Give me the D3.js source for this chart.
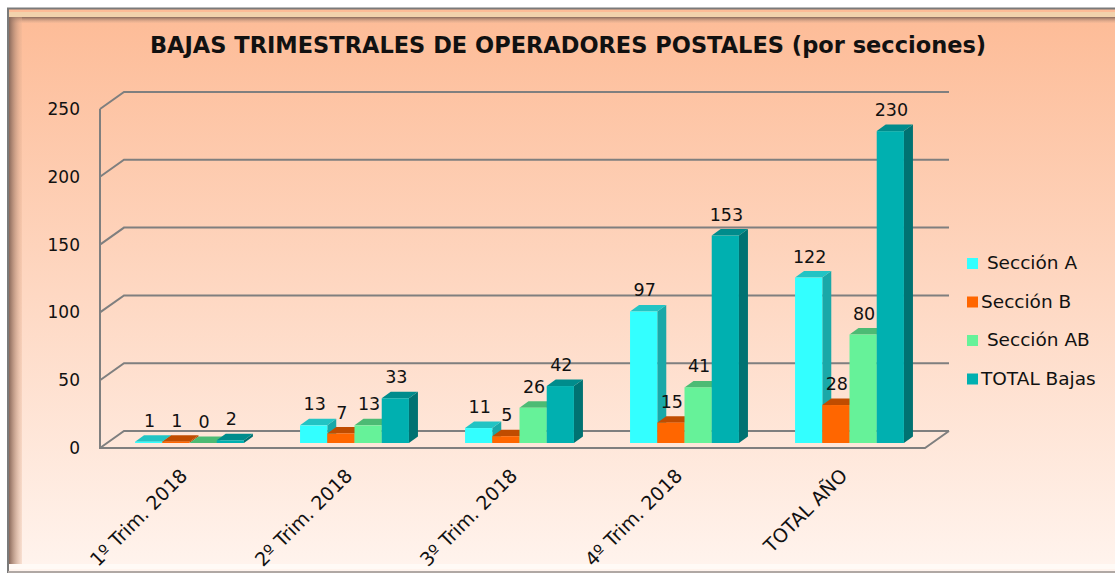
<!DOCTYPE html>
<html>
<head>
<meta charset="utf-8">
<script src="https://cdn.jsdelivr.net/npm/d3@7"></script>
<style>
  body { margin: 0; background: #fff; }
  svg text { font-family: "DejaVu Sans", Verdana, sans-serif; fill: #111; }
</style>
</head>
<body>
<div id="chart"></div>
<script>
// datos
const categories = ["1º Trim. 2018", "2º Trim. 2018", "3º Trim. 2018", "4º Trim. 2018", "TOTAL AÑO"];
const seriesNames = ["Sección A", "Sección B", "Sección AB", "TOTAL Bajas"];
const legendLabels = [" Sección A", "Sección B", " Sección AB", "TOTAL Bajas"];
const seccionA = [1, 13, 11, 97, 122];
const seccionB = [1, 7, 5, 15, 28];
const seccionAB = [0, 13, 26, 41, 80];
const totalBajas = [2, 33, 42, 153, 230];
const yTicks = [0, 50, 100, 150, 200, 250];

const colors = [
  { front: "#33ffff", top: "#22c4c4", side: "#1aa8a8" },
  { front: "#ff6600", top: "#c04c00", side: "#b34700" },
  { front: "#66f299", top: "#4cbb74", side: "#48b06d" },
  { front: "#00b0b0", top: "#008c8c", side: "#007272" }
];

const rows = [seccionA, seccionB, seccionAB, totalBajas];
const data = [];
categories.forEach((c, i) => {
  rows.forEach((r, s) => data.push({ cat: c, s: s, v: r[i] }));
});

const W = 1115, H = 574;
const svg = d3.select('#chart').append('svg').attr('width', W).attr('height', H);

// fondo degradado
const defs = svg.append('defs');
const grad = defs.append('linearGradient').attr('id', 'bg').attr('x1', 0).attr('y1', 0).attr('x2', 0).attr('y2', 1);
grad.append('stop').attr('offset', '0%').attr('stop-color', '#fdbb96');
grad.append('stop').attr('offset', '100%').attr('stop-color', '#fff4ee');
const lg = defs.append('linearGradient').attr('id', 'bevL').attr('x1', 0).attr('y1', 0).attr('x2', 1).attr('y2', 0);
lg.append('stop').attr('offset', '0%').attr('stop-color', '#8a6a5c');
lg.append('stop').attr('offset', '100%').attr('stop-color', '#e8b394').attr('stop-opacity', 0.3);
const tg = defs.append('linearGradient').attr('id', 'bevT').attr('x1', 0).attr('y1', 0).attr('x2', 0).attr('y2', 1);
tg.append('stop').attr('offset', '0%').attr('stop-color', '#8a6a5c');
tg.append('stop').attr('offset', '100%').attr('stop-color', '#e8b394').attr('stop-opacity', 0.3);

svg.append('rect').attr('x', 8).attr('y', 8).attr('width', W - 8).attr('height', 565).attr('fill', 'url(#bg)');
// marco
svg.append('rect').attr('x', 8).attr('y', 12).attr('width', W - 8).attr('height', 5).attr('fill', '#f2d2ac');
svg.append('rect').attr('x', 9).attr('y', 17).attr('width', W - 9).attr('height', 6).attr('fill', 'url(#bevT)');
svg.append('rect').attr('x', 9).attr('y', 17).attr('width', 13).attr('height', 549).attr('fill', 'url(#bevL)');
svg.append('rect').attr('x', 9).attr('y', 564).attr('width', W - 9).attr('height', 5).attr('fill', '#fffaf6');
svg.append('path').attr('d', `M8,573 V8.5 H${W}`).attr('fill', 'none').attr('stroke', '#7a7a7a').attr('stroke-width', 2);
svg.append('line').attr('x1', 8).attr('x2', W).attr('y1', 572).attr('y2', 572).attr('stroke', '#b0a8a4').attr('stroke-width', 2);

// titulo
svg.append('text').attr('x', 568).attr('y', 53).attr('text-anchor', 'middle')
  .style('font-size', '22.5px').style('font-weight', 'bold')
  .text('BAJAS TRIMESTRALES DE OPERADORES POSTALES (por secciones)');

// geometria 3D
const left = 100, right = 925, depthX = 24, depthY = -17;
const x = d3.scaleBand().domain(categories).range([left, right]).paddingInner(0.34).paddingOuter(0.17);
const xs = d3.scaleBand().domain(d3.range(seriesNames.length)).range([0, x.bandwidth()]);
const y = d3.scaleLinear().domain([0, 250]).range([448, 109]);

const g = svg.append('g');
// paredes / rejilla
yTicks.forEach(t => {
  g.append('path')
    .attr('d', `M${left},${y(t)} L${left + depthX},${y(t) + depthY} L${right + depthX},${y(t) + depthY}`)
    .attr('fill', 'none').attr('stroke', '#7f7f7f').attr('stroke-width', 2);
});
g.append('path')
  .attr('d', `M${left},${y(250)} V${y(0)} H${right} L${right + depthX},${y(0) + depthY}`)
  .attr('fill', 'none').attr('stroke', '#7f7f7f').attr('stroke-width', 2);

// eje y
g.selectAll('.ytick').data(yTicks).enter().append('text')
  .attr('x', 80).attr('y', d => y(d) + 6).attr('text-anchor', 'end')
  .style('font-size', '17px').text(d => d);

// barras
const offX = 7, offY = -5, bdx = 9, bdy = -6.5;
const bars = g.selectAll('.bar').data(data).enter().append('g').attr('class', 'bar');
bars.each(function(d) {
  const x0 = x(d.cat) + xs(d.s) + offX;
  const x1 = x0 + xs.bandwidth();
  const yb = y(0) + offY;
  const yt = y(d.v) + offY;
  const c = colors[d.s];
  const sel = d3.select(this);
  sel.append('path').attr('fill', c.side)
    .attr('d', `M${x1},${yt} L${x1 + bdx},${yt + bdy} L${x1 + bdx},${yb + bdy} L${x1},${yb} Z`);
  sel.append('path').attr('fill', c.top)
    .attr('d', `M${x0},${yt} L${x0 + bdx},${yt + bdy} L${x1 + bdx},${yt + bdy} L${x1},${yt} Z`);
  sel.append('rect').attr('fill', c.front)
    .attr('x', x0).attr('y', yt).attr('width', x1 - x0).attr('height', yb - yt);
});

// etiquetas de valores
g.selectAll('.lbl').data(data).enter().append('text')
  .attr('x', d => x(d.cat) + xs(d.s) + offX + xs.bandwidth() / 2 + 1)
  .attr('y', d => y(d.v) + offY - 15)
  .attr('text-anchor', 'middle').style('font-size', '17.5px')
  .text(d => d.v);

// eje x
g.selectAll('.xlbl').data(categories).enter().append('text')
  .attr('transform', d => `translate(${x(d) + x.bandwidth() / 2 + 6},${477}) rotate(-45)`)
  .attr('text-anchor', 'end').style('font-size', '19px')
  .text(d => d);

// leyenda
const leg = svg.append('g').selectAll('g').data(legendLabels).enter().append('g')
  .attr('transform', (d, i) => `translate(967,${269 + i * 38.5})`);
leg.append('rect').attr('x', 0).attr('y', -11).attr('width', 11).attr('height', 11)
  .attr('fill', (d, i) => colors[i].front);
leg.append('text').attr('x', 14).attr('y', 0).style('font-size', '18.5px').style('white-space', 'pre')
  .text(d => d);
</script>
</body>
</html>
